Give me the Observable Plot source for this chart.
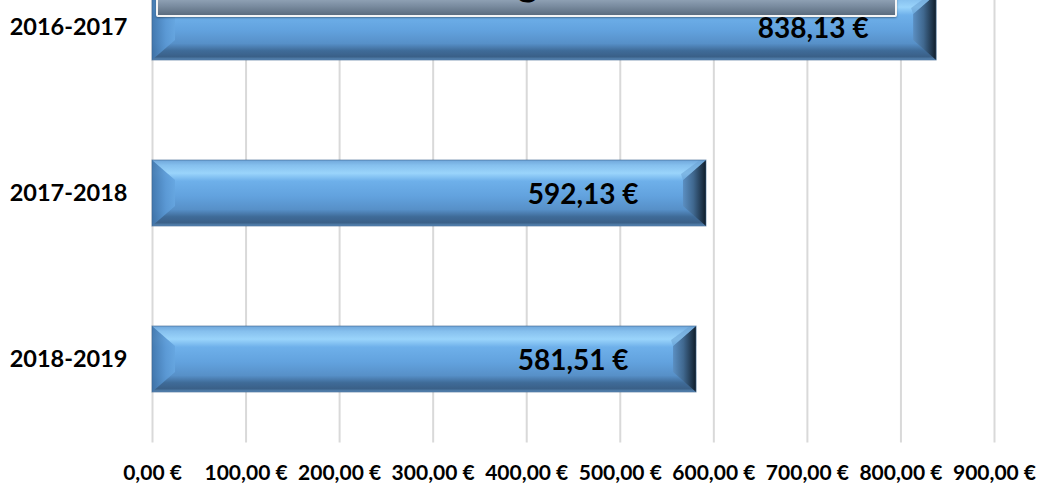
<!DOCTYPE html>
<html><head><meta charset="utf-8">
<script src="https://cdn.jsdelivr.net/npm/d3@7"></script>
<script src="https://cdn.jsdelivr.net/npm/@observablehq/plot@0.6"></script>
<style>
body{margin:0;background:#fff;}
#wrap{position:relative;width:1041px;height:484px;overflow:hidden;background:#fff;}
#titlebox{position:absolute;left:156px;width:741px;top:-62px;height:79px;box-sizing:border-box;
  border:2px solid #f4f4f4;border-radius:2px;
  background:linear-gradient(#c9d6e4 0%,#b3c3d5 55%,#9aacbf 75%,#7a8ca0 88%,#5b6c7e 100%);
  box-shadow:0 1px 2px rgba(0,0,0,0.35);}
#titletext{position:absolute;left:156px;width:741px;top:-44px;height:40px;line-height:40px;text-align:center;
  font:bold 40px Lato, "Open Sans", sans-serif;color:#000;white-space:nowrap;}
</style>
</head><body>
<div id="wrap"></div>
<script>
const seasons = ["2016-2017", "2017-2018", "2018-2019"];
const amounts = [838.13, 592.13, 581.51];
const amountLabels = ["838,13 €", "592,13 €", "581,51 €"];
const xTicks = [0, 100, 200, 300, 400, 500, 600, 700, 800, 900];
const titleText = "Budget €";

const data = seasons.map((s, i) => ({season: s, amount: amounts[i], label: amountLabels[i]}));
const fmt = v => v.toFixed(2).replace(".", ",") + " €";

const chart = Plot.plot({
  width: 1041,
  height: 484,
  marginLeft: 152,
  marginRight: 47,
  marginTop: 0,
  marginBottom: 41.5,
  style: {fontFamily: "Lato, 'Open Sans', sans-serif", background: "#fff", color: "#000"},
  x: {domain: [0, 900], label: null},
  y: {domain: seasons, range: [-55.5, 442.5], paddingInner: 0.6024, paddingOuter: 0.3012, label: null},
  marks: [
    Plot.gridX(xTicks, {stroke: "#d9d9d9", strokeOpacity: 1, strokeWidth: 2}),
    Plot.barX(data, {y: "season", x: "amount", fill: "url(#barFace)"}),
    Plot.text(data, {y: "season", x: "amount", text: "label", textAnchor: "end", dx: -68, dy: 2,
      fontSize: 28, fontWeight: "bold", fill: "#000"}),
    Plot.axisX({ticks: xTicks, tickFormat: fmt, tickSize: 0, tickPadding: 22, fontSize: 21,
      fontWeight: "bold", label: null}),
    Plot.axisY({tickSize: 0, tickPadding: 25, fontSize: 23.5, fontWeight: "bold", label: null})
  ]
});

// gradients for the bevelled bars
const svg = d3.select(chart);
const defs = svg.insert("defs", ":first-child");
function grad(id, stops, horiz) {
  const g = defs.append("linearGradient").attr("id", id)
    .attr("x1", 0).attr("y1", 0).attr("x2", horiz ? 1 : 0).attr("y2", horiz ? 0 : 1);
  stops.forEach(([o, c]) => g.append("stop").attr("offset", o).attr("stop-color", c));
}
grad("barFace", [[0, "#6fa6da"], [0.08, "#86c0ee"], [0.2, "#9ad4fb"], [0.32, "#6eb0ea"], [0.55, "#62a2de"],
  [0.75, "#5790c8"], [0.86, "#3f6b98"], [0.95, "#3a6088"], [1, "#5c8cba"]]);
grad("capLeft", [[0, "#3f74aa"], [0.6, "#5a98d4"], [1, "#66a6e0"]], true);
grad("capRight", [[0, "#5b8fc2"], [0.45, "#40688f"], [0.85, "#1d3247"], [1, "#0f1c28"]], true);

const barG = chart.querySelector('g[aria-label="bar"]');
d3.select(barG).selectAll("rect").each(function () {
  const r = d3.select(this);
  const x = +r.attr("x"), y = +r.attr("y"), w = +r.attr("width"), h = +r.attr("height");
  const b = 23, v = 20;
  const g = d3.select(barG);
  g.append("polygon").attr("points", [[x, y], [x + b, y + v], [x + b, y + h - v], [x, y + h]].join(" "))
    .attr("fill", "url(#capLeft)").attr("opacity", 0.9);
  g.append("polygon").attr("points", [[x + w, y], [x + w - b, y + v], [x + w - b, y + h - v], [x + w, y + h]].join(" "))
    .attr("fill", "url(#capRight)");
  g.append("polygon").attr("points", [[x + w, y], [x + w - b, y + v], [x + w - b - 2, y + v - 6], [x + w - 6, y]].join(" "))
    .attr("fill", "#6aa0d2").attr("opacity", 0.55);
  g.append("rect").attr("x", x).attr("y", y).attr("width", w).attr("height", h)
    .attr("fill", "none").attr("stroke", "#3d668f").attr("stroke-width", 1).attr("stroke-opacity", 0.6);
});

const wrap = document.getElementById("wrap");
wrap.appendChild(chart);
const box = document.createElement("div"); box.id = "titlebox"; wrap.appendChild(box);
const tt = document.createElement("div"); tt.id = "titletext"; tt.textContent = titleText; wrap.appendChild(tt);
</script>
</body></html>
